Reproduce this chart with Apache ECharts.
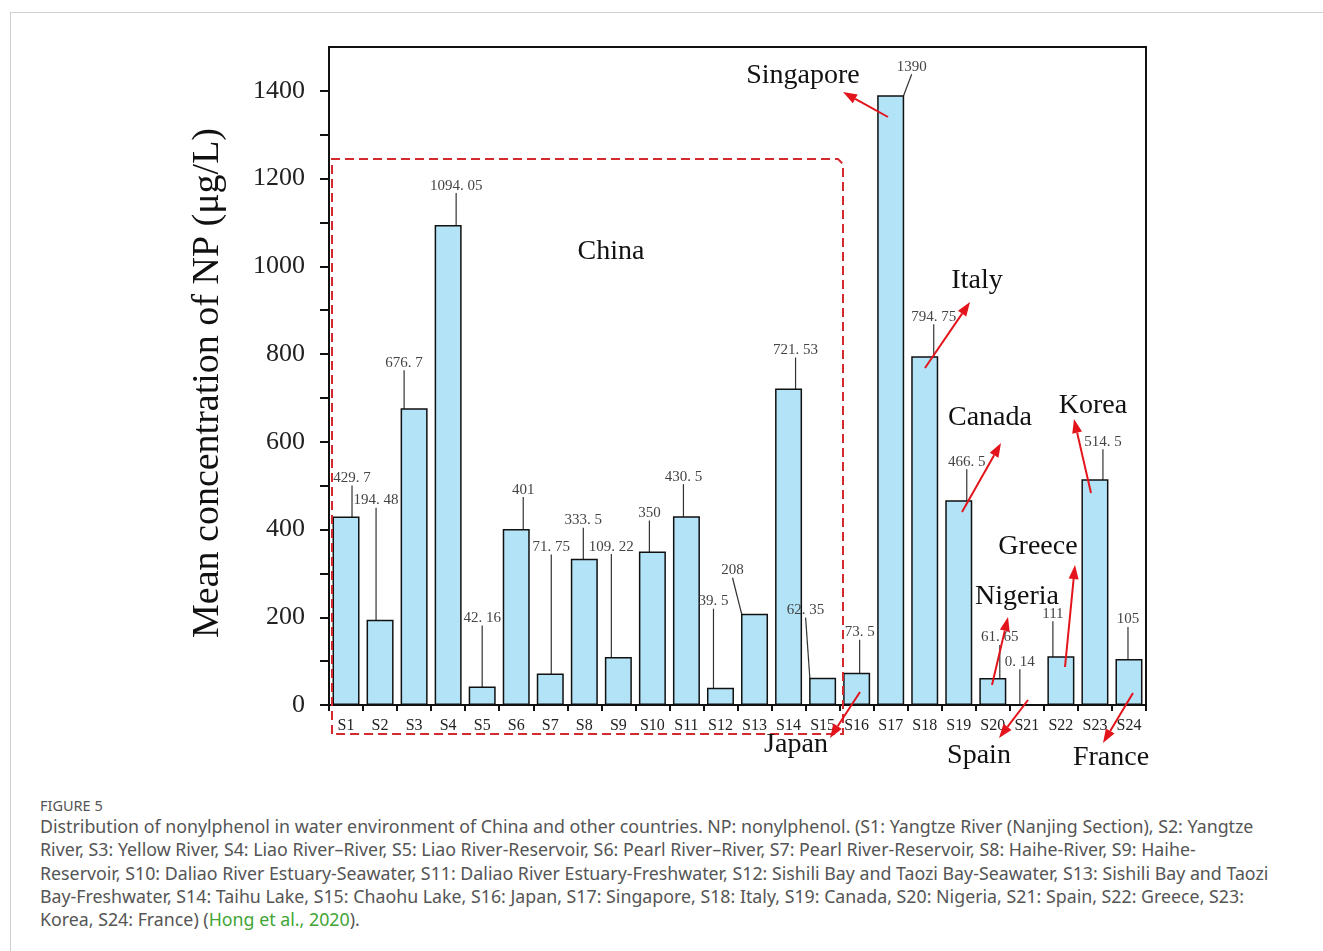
<!DOCTYPE html>
<html>
<head>
<meta charset="utf-8">
<script src="https://cdn.jsdelivr.net/npm/echarts@6/dist/echarts.min.js"></script>
<style>
  html, body { margin: 0; padding: 0; background: #fff; width: 1323px; height: 951px; overflow: hidden; }
  #frame { position: absolute; left: 10px; top: 12px; width: 1340px; height: 980px; border: 1px solid #cfcfcf; }
  #chart { position: absolute; left: 0; top: 0; width: 1323px; height: 790px; }
  #cap { position: absolute; left: 40px; top: 795px; font-family: "Noto Sans", "Open Sans", sans-serif; color: #555; }
  #cap .fig { font-size: 14.5px; line-height: 20px; margin-bottom: 0px; }
  #cap .ln { font-size: 17.8px; line-height: 23.3px; white-space: nowrap; }
  #cap a { color: #3fa535; text-decoration: none; }
</style>
</head>
<body>
<div id="frame"></div>
<div id="chart"></div>
<div id="cap">
  <div class="fig">FIGURE 5</div>
  <div class="ln">Distribution of nonylphenol in water environment of China and other countries. NP: nonylphenol. (S1: Yangtze River (Nanjing Section), S2: Yangtze</div>
  <div class="ln">River, S3: Yellow River, S4: Liao River–River, S5: Liao River-Reservoir, S6: Pearl River–River, S7: Pearl River-Reservoir, S8: Haihe-River, S9: Haihe-</div>
  <div class="ln">Reservoir, S10: Daliao River Estuary-Seawater, S11: Daliao River Estuary-Freshwater, S12: Sishili Bay and Taozi Bay-Seawater, S13: Sishili Bay and Taozi</div>
  <div class="ln">Bay-Freshwater, S14: Taihu Lake, S15: Chaohu Lake, S16: Japan, S17: Singapore, S18: Italy, S19: Canada, S20: Nigeria, S21: Spain, S22: Greece, S23:</div>
  <div class="ln">Korea, S24: France) (<a>Hong et al., 2020</a>).</div>
</div>
<script>
// ---- data ----
const categories = ['S1','S2','S3','S4','S5','S6','S7','S8','S9','S10','S11','S12',
                    'S13','S14','S15','S16','S17','S18','S19','S20','S21','S22','S23','S24'];
const values = [429.7, 194.48, 676.7, 1094.05, 42.16, 401, 71.75, 333.5, 109.22, 350, 430.5, 39.5,
                208, 721.53, 62.35, 73.5, 1390, 794.75, 466.5, 61.65, 0.14, 111, 514.5, 105];
const yAxisMax = 1500;
const yLabelStep = 200;
const yTickStep = 100;
const yAxisTitle = 'Mean concentration of NP (\u03bcg/L)';
const groupLabel = 'China';
const countryNames = ['Singapore','Japan','Italy','Canada','Korea','Greece','Nigeria','Spain','France'];

// ---- layout (label offsets relative to default 'top' position, px) ----
const labelOffsets = [[6,-26],[-4,-107],[-10,-33],[8,-27],[0,-56],[7,-27],[1,-114],[-1,-26],
                      [-7,-98],[-3,-26],[-3,-27],[-7,-74],[-22,-31],[7,-26],[-17,-55],[3,-28],
                      [21,-16],[9,-27],[8,-26],[7,-28],[-7,-30],[-8,-30],[8,-25],[-1,-27]];
// country label position and arrow (from -> head) in px
const countryLayout = {
  'Singapore': { t: [803, 76],  a: [888, 117, 843, 92] },
  'Japan':     { t: [796, 745], a: [860, 692, 830, 738] },
  'Italy':     { t: [977, 281], a: [925, 368, 970, 302] },
  'Canada':    { t: [990, 418], a: [962, 512, 1001, 443] },
  'Korea':     { t: [1093, 406], a: [1091, 493, 1074, 419] },
  'Greece':    { t: [1038, 547], a: [1065, 667, 1075, 565] },
  'Nigeria':   { t: [1017, 597], a: [992, 685, 1008, 617] },
  'Spain':     { t: [979, 756], a: [1028, 700, 999, 738] },
  'France':    { t: [1111, 758], a: [1133, 693, 1103, 743] }
};
const groupLabelPos = [611, 252];
const groupBox = [[332, 734], [332, 159], [838, 159], [843, 164], [843, 734], [332, 734]];

const SERIF = '"Liberation Serif", "Times New Roman", serif';
const RED = '#e3141b';

const chart = echarts.init(document.getElementById('chart'), null, { renderer: 'canvas' });

function arrow(x1, y1, x2, y2) {
  const dx = x2 - x1, dy = y2 - y1;
  const len = Math.sqrt(dx * dx + dy * dy);
  const ux = dx / len, uy = dy / len;
  const hl = 14, hw = 5;
  const bx = x2 - ux * hl, by = y2 - uy * hl;
  return [
    { type: 'line', z: 100, shape: { x1: x1, y1: y1, x2: bx, y2: by },
      style: { stroke: RED, lineWidth: 2 } },
    { type: 'polygon', z: 100, shape: { points: [[x2, y2], [bx - uy * hw, by + ux * hw], [bx + uy * hw, by - ux * hw]] },
      style: { fill: RED } }
  ];
}

const graphics = [];
graphics.push({ type: 'polyline', z: 50, shape: { points: groupBox },
  style: { stroke: '#d42a2f', lineWidth: 2, lineDash: [9, 5], fill: null } });
graphics.push({ type: 'text', z: 100, x: groupLabelPos[0], y: groupLabelPos[1],
  style: { text: groupLabel, font: '28px ' + SERIF, fill: '#111', textAlign: 'center', textVerticalAlign: 'middle' } });
countryNames.forEach(function (n) {
  const c = countryLayout[n];
  graphics.push({ type: 'text', z: 100, x: c.t[0], y: c.t[1],
    style: { text: n, font: '28px ' + SERIF, fill: '#111', textAlign: 'center', textVerticalAlign: 'middle' } });
  arrow(c.a[0], c.a[1], c.a[2], c.a[3]).forEach(function (g) { graphics.push(g); });
});

chart.setOption({
  animation: false,
  backgroundColor: 'transparent',
  grid: { left: 329, top: 47, right: 177, bottom: 85, show: true, borderColor: '#111', borderWidth: 2 },
  xAxis: {
    type: 'category',
    data: categories,
    axisLine: { lineStyle: { color: '#111', width: 2 } },
    axisTick: { show: true, length: 6, inside: false, lineStyle: { color: '#111', width: 2 } },
    axisLabel: { fontFamily: SERIF, fontSize: 16, color: '#222', margin: 13, interval: 0 }
  },
  yAxis: {
    type: 'value',
    min: 0,
    max: yAxisMax,
    interval: yTickStep,
    name: yAxisTitle,
    nameLocation: 'middle',
    nameGap: 102,
    nameTextStyle: { fontFamily: SERIF, fontSize: 38, color: '#111', padding: [0, 14, 0, 0] },
    axisLine: { show: true, lineStyle: { color: '#111', width: 2 } },
    axisTick: { show: true, length: 9, lineStyle: { color: '#111', width: 2 } },
    axisLabel: {
      fontFamily: SERIF, fontSize: 26, color: '#222', margin: 24, showMaxLabel: false,
      formatter: function (v) { return (v % yLabelStep === 0 && v < yAxisMax) ? String(v) : ''; }
    },
    splitLine: { show: false }
  },
  series: [{
    type: 'bar',
    data: values,
    barWidth: 27,
    itemStyle: { color: '#b3e3f7', borderColor: '#111', borderWidth: 1.5 },
    label: {
      show: true,
      position: 'top',
      distance: 5,
      fontFamily: SERIF,
      fontSize: 15,
      color: '#444',
      formatter: function (p) { return String(p.value).replace('.', '. '); }
    },
    labelLayout: function (p) {
      const o = labelOffsets[p.dataIndex];
      return { dx: o[0], dy: o[1] };
    },
    labelLine: { show: true, lineStyle: { color: '#333', width: 1.2 } },
    emphasis: { disabled: true }
  }],
  graphic: graphics
});
</script>
</body>
</html>
